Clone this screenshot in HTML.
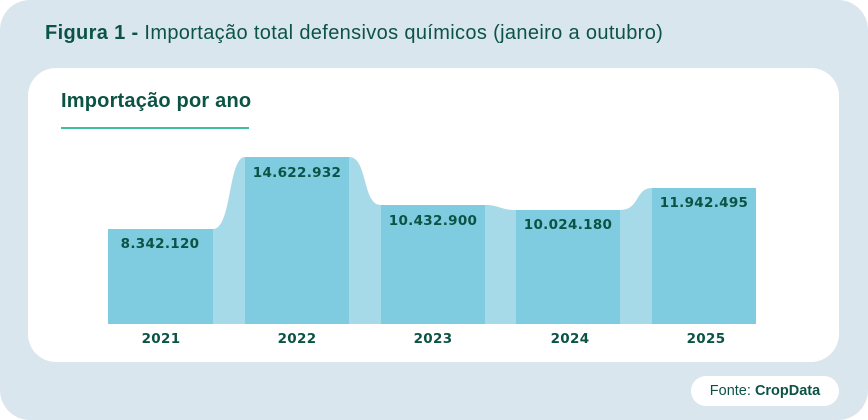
<!DOCTYPE html>
<html><head><meta charset="utf-8"><style>
html,body{margin:0;padding:0}
body{width:868px;height:420px;background:#fff;position:relative;overflow:hidden;font-family:"Liberation Sans",sans-serif}
.bg{position:absolute;left:0;top:0;width:868px;height:420px;background:#dae6ed;border-radius:30px}
.t{position:absolute;left:45px;top:22px;font-size:20px;letter-spacing:0.35px;color:#0b5345;white-space:nowrap}
.card{position:absolute;left:28px;top:68px;width:811px;height:294px;background:#fff;border-radius:28px}
.h{position:absolute;left:61px;top:90px;font-size:20px;letter-spacing:0.2px;font-weight:bold;color:#0b5345}
.ul{position:absolute;left:61px;top:127px;width:188px;height:2px;background:#3dbf9d}
.pill{position:absolute;left:691px;top:376px;width:148px;height:30px;background:#fff;border-radius:15px;font-size:14.5px;color:#0b5345;text-align:center;line-height:30px}
svg{position:absolute;left:0;top:0}
</style></head><body>
<div class="bg"></div>
<div class="t"><b>Figura 1 -</b> Importação total defensivos químicos (janeiro a outubro)</div>
<div class="card"></div>
<div class="h">Importação por ano</div>
<div class="ul"></div>
<svg width="868" height="420">
<g fill="#a6dae8">
<path d="M213 229 C232 229 228 157 245 157 V324 H213Z"/>
<path d="M349 157 C368 157 362 205 381 205 V324 H349Z"/>
<path d="M485 205 C500 205 500 210 516 210 V324 H485Z"/>
<path d="M620 210 C640 210 635 188 652 188 V324 H620Z"/>
</g>
<g fill="#7fcbdf">
<rect x="108" y="229" width="105" height="95"/>
<rect x="245" y="157" width="104" height="167"/>
<rect x="381" y="205" width="104" height="119"/>
<rect x="516" y="210" width="104" height="114"/>
<rect x="652" y="188" width="104" height="136"/>
</g>
<g font-family="DejaVu Sans,sans-serif" font-weight="bold" font-size="13.5" letter-spacing="0.3" fill="#0b5345" text-anchor="middle">
<text x="160" y="248">8.342.120</text>
<text x="297" y="177">14.622.932</text>
<text x="433" y="225">10.432.900</text>
<text x="568" y="229">10.024.180</text>
<text x="704" y="207">11.942.495</text>
<text x="161" y="343">2021</text>
<text x="297" y="343">2022</text>
<text x="433" y="343">2023</text>
<text x="570" y="343">2024</text>
<text x="706" y="343">2025</text>
</g>
</svg>
<div class="pill">Fonte: <b>CropData</b></div>
</body></html>
